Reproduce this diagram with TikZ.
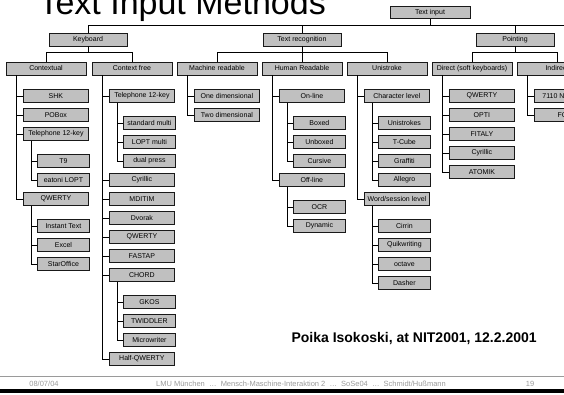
\documentclass[tikz,border=0pt]{standalone}
\usepackage{fontspec}
\setmainfont{Liberation Sans}
\usetikzlibrary{positioning,shadows}
\definecolor{boxgray}{HTML}{C0C0C0}
\definecolor{footgray}{HTML}{9A9A9A}

\begin{document}
\begin{tikzpicture}[
  x=1pt, y=-1pt,
  box/.style={rectangle, draw=black!90, fill=boxgray, line width=0.8pt, minimum height=12.5pt, inner sep=0pt, font=\fontsize{7}{8}\selectfont, drop shadow={shadow xshift=0.9pt, shadow yshift=-0.9pt, fill=black!80, opacity=1}},
  rootbox/.style={box, minimum width=80pt, minimum height=12pt},
  mainbox/.style={box, minimum width=78pt, minimum height=13pt},
  subbox/.style={box, minimum width=80pt, minimum height=13pt},
  itembox/.style={box, anchor=west, minimum width=65pt},
  leafbox/.style={box, anchor=west, minimum width=52pt},
  link/.style={draw=black, line width=0.7pt},
  foot/.style={text=footgray, font=\fontsize{7.5}{9}\selectfont}
]
\useasboundingbox (0,0) rectangle (564,395);
\clip (0,0) rectangle (564,395);

% title and credit
\node[anchor=base west, font=\fontsize{34}{40}\selectfont] (title) at (35,15) {Text Input Methods};
\node[anchor=base west, font=\bfseries\fontsize{14}{16}\selectfont] (credit) at (288,342) {Poika Isokoski, at NIT2001, 12.2.2001};

% top levels
\node[rootbox] (txtin) at (430,12.5) {Text input};
\node[mainbox] (keyb) at (88,39.5) {Keyboard};
\node[mainbox] (txtrec) at (302,39.5) {Text recognition};
\node[mainbox] (point) at (515,39.5) {Pointing};

\node[subbox] (ctxl) at (46,68.5) {Contextual};
\node[subbox] (ctxf) at (132,68.5) {Context free};
\node[subbox] (machr) at (217,68.5) {Machine readable};
\node[subbox] (humr) at (302,68.5) {Human Readable};
\node[subbox] (unist) at (387,68.5) {Unistroke};
\node[subbox] (direct) at (472,68.5) {Direct (soft keyboards)};
\node[subbox] (indir) at (557,68.5) {Indirect};

% contextual
\node[itembox] (shk) at (23,96) {SHK};
\node[itembox] (pobox) at (23,115) {POBox};
\node[itembox] (telA) at (23,134) {Telephone 12-key};
\node[leafbox] (tnine) at (37,161) {T9};
\node[leafbox] (eatoni) at (37,180) {eatoni LOPT};
\node[itembox] (qwertyA) at (23,199) {QWERTY};
\node[leafbox] (insttext) at (37,226) {Instant Text};
\node[leafbox] (excel) at (37,245) {Excel};
\node[leafbox] (staroff) at (37,264) {StarOffice};

% context free
\node[itembox] (telB) at (109,96) {Telephone 12-key};
\node[leafbox] (stdmulti) at (123,123) {standard multi};
\node[leafbox] (loptmulti) at (123,142) {LOPT multi};
\node[leafbox] (dualpress) at (123,161) {dual press};
\node[itembox] (cyrA) at (109,180) {Cyrillic};
\node[itembox] (mditim) at (109,199) {MDITIM};
\node[itembox] (dvorak) at (109,218) {Dvorak};
\node[itembox] (qwertyB) at (109,237) {QWERTY};
\node[itembox] (fastap) at (109,256) {FASTAP};
\node[itembox] (chord) at (109,275) {CHORD};
\node[leafbox] (gkos) at (123,302) {GKOS};
\node[leafbox] (twiddler) at (123,321) {TWIDDLER};
\node[leafbox] (microwr) at (123,340) {Microwriter};
\node[itembox] (halfq) at (109,359) {Half-QWERTY};

% machine readable
\node[itembox] (onedim) at (194,96) {One dimensional};
\node[itembox] (twodim) at (194,115) {Two dimensional};

% human readable
\node[itembox] (online) at (279,96) {On-line};
\node[leafbox] (boxed) at (293,123) {Boxed};
\node[leafbox] (unboxed) at (293,142) {Unboxed};
\node[leafbox] (cursive) at (293,161) {Cursive};
\node[itembox] (offline) at (279,180) {Off-line};
\node[leafbox] (ocr) at (293,207) {OCR};
\node[leafbox] (dynamic) at (293,226) {Dynamic};

% unistroke
\node[itembox] (charlvl) at (364,96) {Character level};
\node[leafbox] (unistrokes) at (378,123) {Unistrokes};
\node[leafbox] (tcube) at (378,142) {T-Cube};
\node[leafbox] (graffiti) at (378,161) {Graffiti};
\node[leafbox] (allegro) at (378,180) {Allegro};
\node[itembox] (wordlvl) at (364,199) {Word/session level};
\node[leafbox] (cirrin) at (378,226) {Cirrin};
\node[leafbox] (quikwr) at (378,245) {Quikwriting};
\node[leafbox] (octave) at (378,264) {octave};
\node[leafbox] (dasher) at (378,283) {Dasher};

% direct and indirect pointing
\node[itembox] (qwertyC) at (449,96) {QWERTY};
\node[itembox] (opti) at (449,115) {OPTI};
\node[itembox] (fitaly) at (449,134) {FITALY};
\node[itembox] (cyrB) at (449,153) {Cyrillic};
\node[itembox] (atomik) at (449,172) {ATOMIK};
\node[itembox] (navi) at (534,96) {7110 Navi-roller};
\node[itembox] (focl) at (534,115) {FOCL};

% tree lines, upper levels
\coordinate (busend) at (564,25);
\draw[link] (keyb.north) |- (busend);
\draw[link] (txtin.south) -- (txtin.south |- busend);
\draw[link] (txtrec.north) -- (txtrec.north |- busend);
\draw[link] (point.north) -- (point.north |- busend);

\draw[link] (ctxl.north) -- ++(0,-9) -| (ctxf.north);
\draw[link] (keyb.south) -- ++(0,7);
\draw[link] (machr.north) -- ++(0,-9) -| (unist.north);
\draw[link] (humr.north) -- (txtrec.south);
\draw[link] (direct.north) -- ++(0,-9) -| (indir.north);
\draw[link] (point.south) -- ++(0,7);

% tree lines, lists
\draw[link] ([xshift=11pt]ctxl.south west) |- (shk.west)
  ([xshift=11pt]ctxl.south west) |- (pobox.west)
  ([xshift=11pt]ctxl.south west) |- (telA.west)
  ([xshift=11pt]ctxl.south west) |- (qwertyA.west);
\draw[link] ([xshift=8pt]telA.south west) |- (tnine.west)
  ([xshift=8pt]telA.south west) |- (eatoni.west);
\draw[link] ([xshift=8pt]qwertyA.south west) |- (insttext.west)
  ([xshift=8pt]qwertyA.south west) |- (excel.west)
  ([xshift=8pt]qwertyA.south west) |- (staroff.west);

\draw[link] ([xshift=11pt]ctxf.south west) |- (telB.west)
  ([xshift=11pt]ctxf.south west) |- (cyrA.west)
  ([xshift=11pt]ctxf.south west) |- (mditim.west)
  ([xshift=11pt]ctxf.south west) |- (dvorak.west)
  ([xshift=11pt]ctxf.south west) |- (qwertyB.west)
  ([xshift=11pt]ctxf.south west) |- (fastap.west)
  ([xshift=11pt]ctxf.south west) |- (chord.west)
  ([xshift=11pt]ctxf.south west) |- (halfq.west);
\draw[link] ([xshift=8pt]telB.south west) |- (stdmulti.west)
  ([xshift=8pt]telB.south west) |- (loptmulti.west)
  ([xshift=8pt]telB.south west) |- (dualpress.west);
\draw[link] ([xshift=8pt]chord.south west) |- (gkos.west)
  ([xshift=8pt]chord.south west) |- (twiddler.west)
  ([xshift=8pt]chord.south west) |- (microwr.west);

\draw[link] ([xshift=11pt]machr.south west) |- (onedim.west)
  ([xshift=11pt]machr.south west) |- (twodim.west);

\draw[link] ([xshift=11pt]humr.south west) |- (online.west)
  ([xshift=11pt]humr.south west) |- (offline.west);
\draw[link] ([xshift=8pt]online.south west) |- (boxed.west)
  ([xshift=8pt]online.south west) |- (unboxed.west)
  ([xshift=8pt]online.south west) |- (cursive.west);
\draw[link] ([xshift=8pt]offline.south west) |- (ocr.west)
  ([xshift=8pt]offline.south west) |- (dynamic.west);

\draw[link] ([xshift=11pt]unist.south west) |- (charlvl.west)
  ([xshift=11pt]unist.south west) |- (wordlvl.west);
\draw[link] ([xshift=8pt]charlvl.south west) |- (unistrokes.west)
  ([xshift=8pt]charlvl.south west) |- (tcube.west)
  ([xshift=8pt]charlvl.south west) |- (graffiti.west)
  ([xshift=8pt]charlvl.south west) |- (allegro.west);
\draw[link] ([xshift=8pt]wordlvl.south west) |- (cirrin.west)
  ([xshift=8pt]wordlvl.south west) |- (quikwr.west)
  ([xshift=8pt]wordlvl.south west) |- (octave.west)
  ([xshift=8pt]wordlvl.south west) |- (dasher.west);

\draw[link] ([xshift=11pt]direct.south west) |- (qwertyC.west)
  ([xshift=11pt]direct.south west) |- (opti.west)
  ([xshift=11pt]direct.south west) |- (fitaly.west)
  ([xshift=11pt]direct.south west) |- (cyrB.west)
  ([xshift=11pt]direct.south west) |- (atomik.west);
\draw[link] ([xshift=11pt]indir.south west) |- (navi.west)
  ([xshift=11pt]indir.south west) |- (focl.west);

% footer
\draw[footgray, line width=0.8pt] (0,376) -- (564,376);
\fill[black] (0,389) rectangle (564,393);
\node[foot] (fdate) at (44,384) {08/07/04};
\node[foot] (fmid) at (301,384) {LMU München \ …\ \ Mensch-Maschine-Interaktion 2 \ …\ \ SoSe04 \ …\ \ Schmidt/Hußmann};
\node[foot] (fpage) at (530,384) {19};
\end{tikzpicture}
\end{document}
